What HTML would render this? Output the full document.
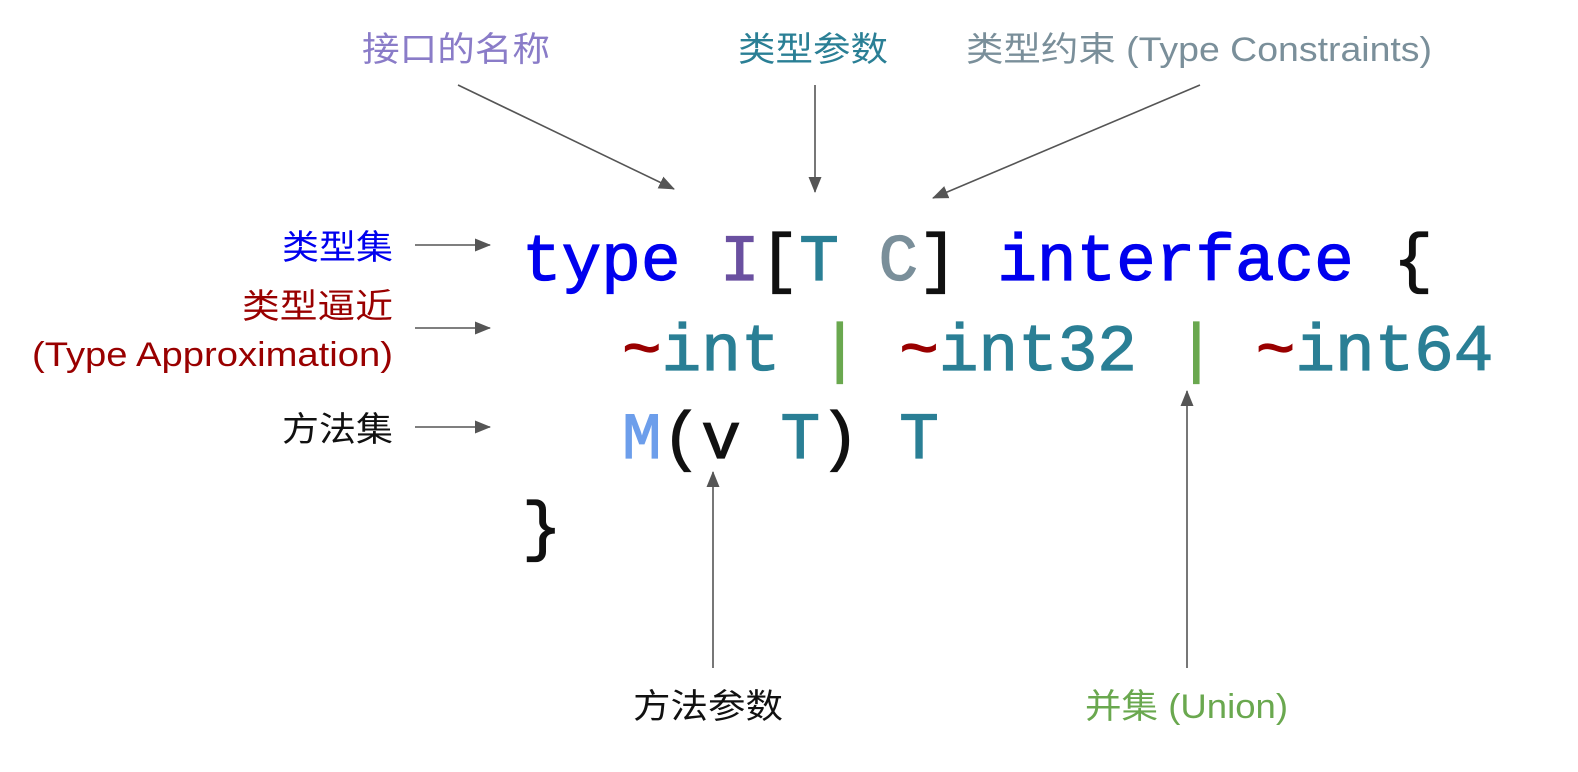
<!DOCTYPE html>
<html><head><meta charset="utf-8"><style>
html,body{margin:0;padding:0;background:#fff;}
svg{display:block;}
.cjk{font-family:"Liberation Sans","Noto Sans CJK SC",sans-serif;font-size:34px;}
.code{font-family:"Liberation Mono","DejaVu Sans Mono",monospace;font-size:66px;}
</style></head><body>
<svg width="1578" height="772" viewBox="0 0 1578 772" xmlns="http://www.w3.org/2000/svg">
<defs>
<marker id="b" markerWidth="16" markerHeight="16" refX="15" refY="8" orient="auto" markerUnits="userSpaceOnUse" viewBox="0 0 16 16"><path d="M0,1.5 L16,8 L0,14.5 z" fill="#555"/></marker></defs>
<g class="cjk" lengthAdjust="spacingAndGlyphs">
<text x="362" y="61" fill="#8a7cc8" textLength="188" lengthAdjust="spacingAndGlyphs">接口的名称</text>
<text x="738" y="61" fill="#2a7f95" textLength="150" lengthAdjust="spacingAndGlyphs">类型参数</text>
<text x="966" y="61" fill="#7a8f9a" textLength="466" lengthAdjust="spacingAndGlyphs">类型约束 (Type Constraints)</text>
<text x="282" y="259" fill="#0000ee" textLength="111" lengthAdjust="spacingAndGlyphs">类型集</text>
<text x="242" y="318" fill="#990000" textLength="151" lengthAdjust="spacingAndGlyphs">类型逼近</text>
<text x="32" y="366" fill="#990000" textLength="361" lengthAdjust="spacingAndGlyphs">(Type Approximation)</text>
<text x="282" y="441" fill="#111" textLength="111" lengthAdjust="spacingAndGlyphs">方法集</text>
<text x="633" y="718" fill="#111" textLength="150" lengthAdjust="spacingAndGlyphs">方法参数</text>
<text x="1085" y="718" fill="#6aa84f" textLength="203" lengthAdjust="spacingAndGlyphs">并集 (Union)</text>
</g>
<g stroke="#555" stroke-width="1.6" fill="none">
<line x1="458" y1="85" x2="674" y2="189" marker-end="url(#b)"/>
<line x1="815" y1="85" x2="815" y2="192" marker-end="url(#b)"/>
<line x1="1200" y1="85" x2="933" y2="198" marker-end="url(#b)"/>
<line x1="415" y1="245" x2="490" y2="245" marker-end="url(#b)"/>
<line x1="415" y1="328" x2="490" y2="328" marker-end="url(#b)"/>
<line x1="415" y1="427" x2="490" y2="427" marker-end="url(#b)"/>
<line x1="713" y1="668" x2="713" y2="472" marker-end="url(#b)"/>
<line x1="1187" y1="668" x2="1187" y2="391" marker-end="url(#b)"/>
</g>
<g class="code" xml:space="preserve" stroke-width="1.2">
<text x="522" y="280"><tspan fill="#0000ee" stroke="#0000ee">type</tspan> <tspan fill="#6a50a0" stroke="#6a50a0">I</tspan><tspan fill="#111" stroke="#111">[</tspan><tspan fill="#2a7f95" stroke="#2a7f95">T</tspan> <tspan fill="#7a8f9a" stroke="#7a8f9a">C</tspan><tspan fill="#111" stroke="#111">]</tspan> <tspan fill="#0000ee" stroke="#0000ee">interface</tspan> <tspan fill="#111" stroke="#111">{</tspan></text>
<text x="622" y="370"><tspan fill="#990000" stroke="#990000">~</tspan><tspan fill="#2a7f95" stroke="#2a7f95">int</tspan> <tspan fill="#6aa84f" stroke="#6aa84f">|</tspan> <tspan fill="#990000" stroke="#990000">~</tspan><tspan fill="#2a7f95" stroke="#2a7f95">int32</tspan> <tspan fill="#6aa84f" stroke="#6aa84f">|</tspan> <tspan fill="#990000" stroke="#990000">~</tspan><tspan fill="#2a7f95" stroke="#2a7f95">int64</tspan></text>
<text x="622" y="458"><tspan fill="#6d9eeb" stroke="#6d9eeb">M</tspan><tspan fill="#111" stroke="#111">(v </tspan><tspan fill="#2a7f95" stroke="#2a7f95">T</tspan><tspan fill="#111" stroke="#111">)</tspan> <tspan fill="#2a7f95" stroke="#2a7f95">T</tspan></text>
<text x="522" y="548" fill="#111" stroke="#111">}</text>
</g>
</svg>
</body></html>
